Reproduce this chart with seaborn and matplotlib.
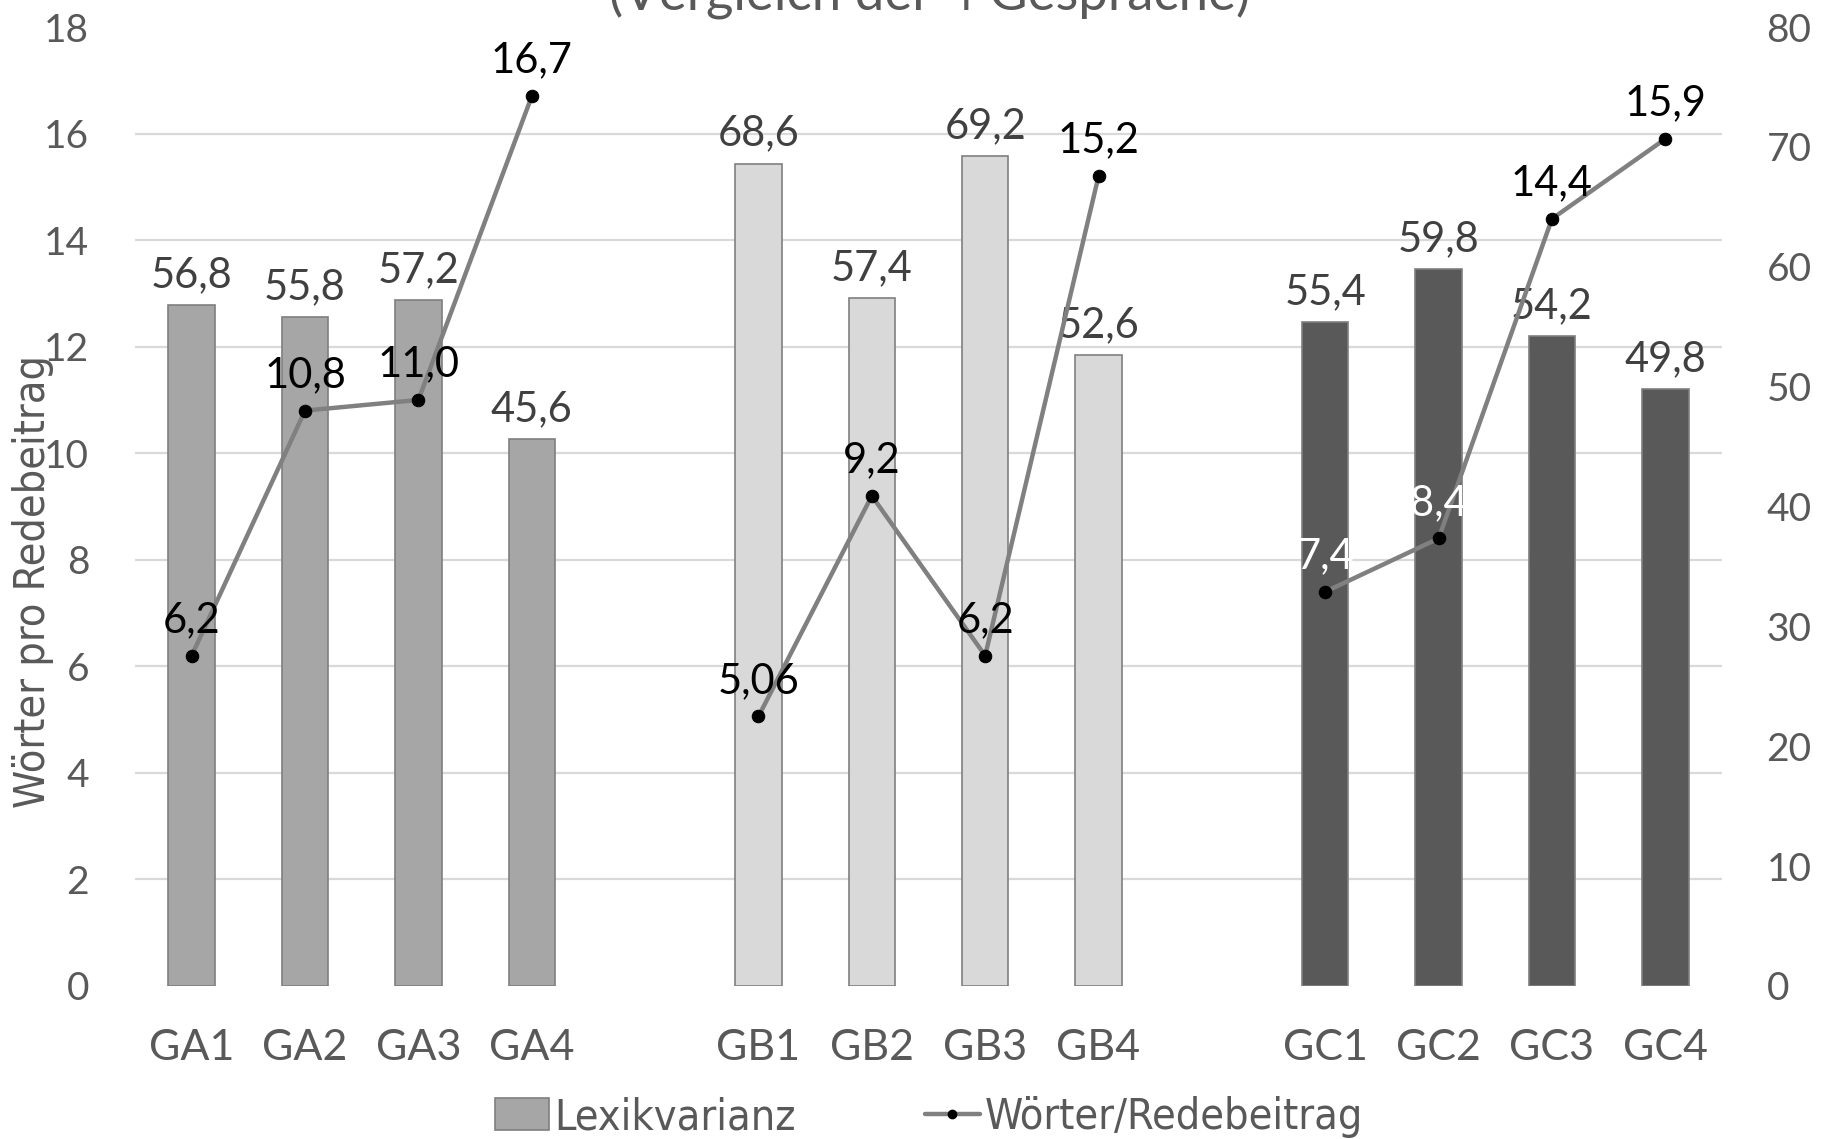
import matplotlib
matplotlib.use("Agg")
import numpy as np
import pandas as pd
import matplotlib.pyplot as plt
import seaborn as sns
from matplotlib.ticker import FixedLocator
from matplotlib.patches import Patch
from matplotlib.lines import Line2D

# ---- data -------------------------------------------------------------
gespraeche = ["GA1", "GA2", "GA3", "GA4",
              "GB1", "GB2", "GB3", "GB4",
              "GC1", "GC2", "GC3", "GC4"]
gruppen = ["GA"] * 4 + ["GB"] * 4 + ["GC"] * 4
lexikvarianz = [56.8, 55.8, 57.2, 45.6,
                68.6, 57.4, 69.2, 52.6,
                55.4, 59.8, 54.2, 49.8]
woerter = [6.2, 10.8, 11.0, 16.7,
           5.06, 9.2, 6.2, 15.2,
           7.4, 8.4, 14.4, 15.9]
woerter_dezimalen = [1, 1, 1, 1, 2, 1, 1, 1, 1, 1, 1, 1]
lex_ticks = list(range(0, 81, 10))
woerter_ticks = list(range(0, 19, 2))

# ---- style ------------------------------------------------------------
farben = {"GA": "#a6a6a6", "GB": "#d9d9d9", "GC": "#595959"}
linienfarbe = "#808080"
textgrau = "#595959"
labelfarbe_linie = ["black"] * 8 + ["white", "white", "black", "black"]

sns.set_theme(style="white")
plt.rcParams["font.family"] = ["Lato", "DejaVu Sans"]
schmal = {"family": ["DejaVu Sans"], "stretch": "condensed"}

# each conversation group gets its own block of four slots with one empty slot between
pos = [g * 5 + i for g in range(3) for i in range(4)]
df = pd.DataFrame({"pos": pos, "gespraech": gespraeche, "gruppe": gruppen,
                   "lex": lexikvarianz, "woerter": woerter})

fig = plt.figure(figsize=(18.32, 11.39), dpi=100)
ax = fig.add_axes([135 / 1832, 1 - 986 / 1139, (1722 - 135) / 1832, (986 - 27) / 1139])
ax2 = ax.twinx()

# bars: Lexikvarianz on the right-hand scale
sns.barplot(data=df, x="pos", y="lex", hue="gruppe", palette=farben,
            native_scale=True, dodge=False, width=0.41, saturation=1,
            edgecolor="#7f7f7f", linewidth=1.2, legend=False, ax=ax)
ax.set_xlim(-0.5, 13.5)
ax.set_ylim(0, 80)
ax.set_yticks(lex_ticks)
ax.set_yticklabels([str(t) for t in lex_ticks])
# horizontal grid follows the left-hand (Wörter) scale
ax.yaxis.set_minor_locator(FixedLocator([t * 80 / 18 for t in woerter_ticks]))
ax.grid(which="major", visible=False)
ax.grid(which="minor", axis="y", color="#d9d9d9", linewidth=1.6)
ax.set_axisbelow(True)
ax.set_xticks(pos)
ax.set_xticklabels(gespraeche)
ax.set_xlabel("")
ax.set_ylabel("")
ax.tick_params(axis="y", which="both", length=0, labelsize=28,
               colors=textgrau, pad=32)
ax.tick_params(axis="x", length=0, labelsize=31, colors=textgrau, pad=31)
for s in ax.spines.values():
    s.set_visible(False)

for x, v in zip(pos, lexikvarianz):
    ax.annotate(f"{v:.1f}".replace(".", ","), (x, v), xytext=(0, 8),
                textcoords="offset points", ha="center", va="bottom",
                fontsize=30, color="#404040")

# line: Wörter pro Redebeitrag on the left-hand scale
for g in ["GA", "GB", "GC"]:
    sub = df[df["gruppe"] == g]
    sns.lineplot(data=sub, x="pos", y="woerter", color=linienfarbe,
                 linewidth=3.2, marker="o", markersize=9,
                 markerfacecolor="black", markeredgecolor="black",
                 legend=False, ax=ax2)
ax2.set_ylim(0, 18)
ax2.set_xlim(-0.5, 13.5)
ax2.set_yticks(woerter_ticks)
ax2.set_yticklabels([str(t) for t in woerter_ticks])
ax2.set_ylabel("")
ax2.set_xlabel("")
ax2.grid(False)
ax2.tick_params(axis="y", length=0, labelsize=28, colors=textgrau, pad=33)
for s in ax2.spines.values():
    s.set_visible(False)

for x, v, d, c in zip(pos, woerter, woerter_dezimalen, labelfarbe_linie):
    ax2.annotate(f"{v:.{d}f}".replace(".", ","), (x, v), xytext=(0, 12),
                 textcoords="offset points", ha="center", va="bottom",
                 fontsize=30, color=c)

# bars sit on the right axis, the Wörter scale on the left
ax.yaxis.tick_right()
ax2.yaxis.tick_left()

fig.text(33 / 1832, 1 - 582 / 1139, "Wörter pro Redebeitrag", rotation=90,
         ha="center", va="center", fontsize=31, color=textgrau, fontdict=schmal)

fig.text(930 / 1832, 1 - 10 / 1139, "(Vergleich der 4 Gespräche)",
         ha="center", va="baseline", fontsize=38, color=textgrau)

handles = [Patch(facecolor=farben["GA"], edgecolor="#7f7f7f", linewidth=1.2),
           Line2D([], [], color=linienfarbe, linewidth=3.2, marker="o",
                  markersize=6, markerfacecolor="black", markeredgecolor="black")]
leg = fig.legend(handles, ["Lexikvarianz", "Wörter/Redebeitrag"],
                 loc="center", bbox_to_anchor=(929 / 1832, 22 / 1139), ncol=2,
                 frameon=False, prop={"family": ["DejaVu Sans"], "stretch": "condensed", "size": 31},
                 labelcolor=textgrau, handlelength=1.27, handleheight=0.75,
                 handletextpad=0.12, columnspacing=3.0, borderpad=0)

fig.savefig("out.png", dpi=100)
